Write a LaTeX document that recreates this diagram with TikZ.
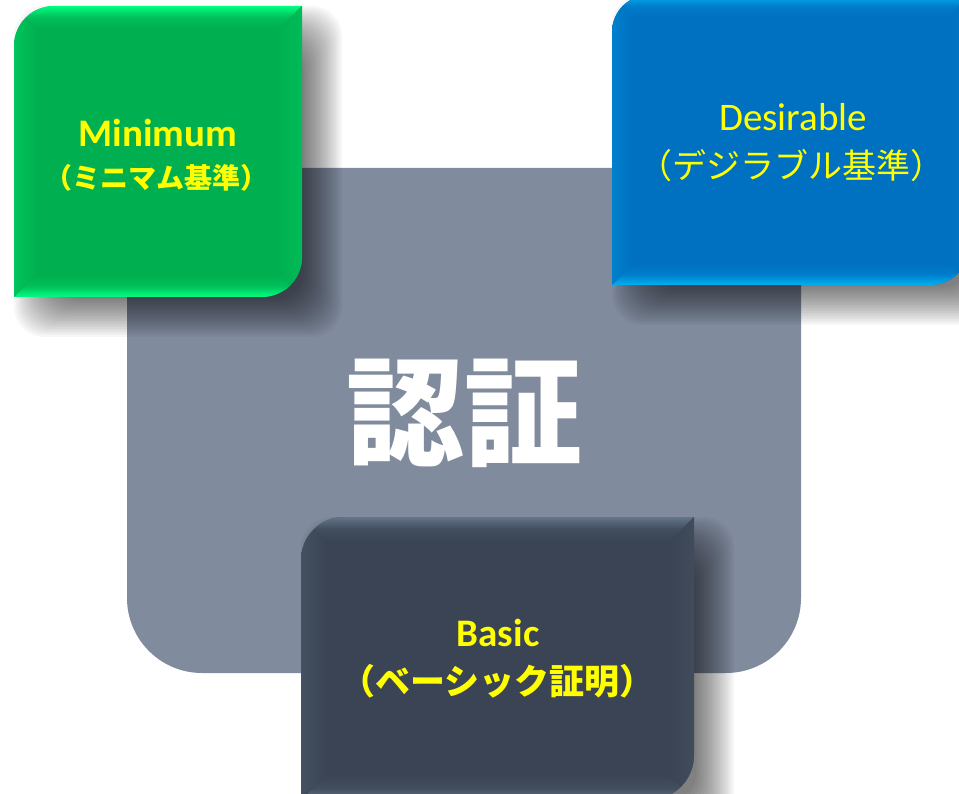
\documentclass[tikz,border=0pt]{standalone}
\usepackage{fontspec}
\setmainfont{Carlito}
\newfontfamily\jp{Noto Sans CJK JP}
\definecolor{grayB}{RGB}{128,139,157}
\definecolor{greenM}{RGB}{0,176,80}
\definecolor{greenL}{RGB}{0,255,128}
\definecolor{blueM}{RGB}{0,112,192}
\definecolor{blueL}{RGB}{0,176,240}
\definecolor{darkM}{RGB}{58,68,84}
\definecolor{darkL}{RGB}{100,116,138}
\definecolor{ytext}{RGB}{255,255,0}
% #1 path, #2 x0, #3 y0, #4 x1, #5 y1, #6 main, #7 light, #8 bevel
\newcommand{\bevbox}[8]{%
  \begin{scope}
    \clip #1;
    \fill[#6] (#2,#3) rectangle (#4,#5);
    \shade[top color=#7, bottom color=#6, middle color=#6!80!#7]
      (#2,#3) -- (#4,#3) -- ({#4-#8},{#3+#8}) -- ({#2+#8},{#3+#8}) -- cycle;
    \shade[top color=#6, bottom color=#7, middle color=#6!80!#7]
      (#2,#5) -- (#4,#5) -- ({#4-#8},{#5-#8}) -- ({#2+#8},{#5-#8}) -- cycle;
    \shade[left color=#6!75!#7, right color=#6]
      (#2,#3) -- ({#2+#8},{#3+#8}) -- ({#2+#8},{#5-#8}) -- (#2,#5) -- cycle;
    \shade[left color=#6, right color=#6!85!#7]
      (#4,#3) -- ({#4-#8},{#3+#8}) -- ({#4-#8},{#5-#8}) -- (#4,#5) -- cycle;
  \end{scope}}
% soft shadow: #1 x0, #2 y0, #3 x1, #4 y1 (already offset)
\newcommand{\softshadow}[4]{%
  \foreach \k [evaluate=\k as \e using 20-2*\k] in {0,...,19}{
    \fill[black, opacity=0.03, rounded corners=30]
      ({#1-\e},{#2-\e}) rectangle ({#3+\e},{#4+\e});
  }}
\tikzset{
  lat/.style={text=ytext, inner sep=0pt, anchor=base},
  jpl/.style={text=ytext, inner sep=0pt, anchor=center},
}
\begin{document}
\begin{tikzpicture}[x=1pt,y=-1pt]
\useasboundingbox (0,0) rectangle (959,794);
\clip (0,0) rectangle (959,794);
\fill[white] (0,0) rectangle (959,794);
% central gray box
\fill[grayB] (127,168) -- (801,168) -- (801,598)
  arc[start angle=0,end angle=90,radius=75] -- (202,673)
  arc[start angle=90,end angle=180,radius=75] -- cycle;
% green box
\softshadow{34}{26}{322}{317}
\bevbox{(14,46) arc[start angle=180,end angle=270,radius=40] -- (302,6) -- (302,257) arc[start angle=0,end angle=90,radius=40] -- (14,297) -- cycle}{14}{6}{302}{297}{greenM}{greenL}{22}
% blue box
\softshadow{632}{15}{990}{305}
\bevbox{(612,32) arc[start angle=180,end angle=270,radius=37] -- (970,-5) -- (970,245) arc[start angle=0,end angle=90,radius=40] -- (612,285) -- cycle}{612}{-5}{970}{285}{blueM}{blueL}{22}
% dark box
\softshadow{321}{537}{714}{820}
\bevbox{(301,560) arc[start angle=180,end angle=270,radius=43] -- (694,517) -- (694,755) arc[start angle=0,end angle=90,radius=45] -- (301,800) -- cycle}{301}{517}{694}{800}{darkM}{darkL}{24}
% texts
\node[lat, font=\bfseries\fontsize{39}{44}\selectfont] (minA) at (158,146.5) {Minimum};
\node[jpl, font=\jp\bfseries\fontsize{28}{32}\selectfont] (minB) at (157,177.5) {（ミニマム基準）};
\node[lat, font=\fontsize{39}{44}\selectfont] (desA) at (793,130.5) {Desirable};
\node[jpl, font=\jp\fontsize{34}{40}\selectfont] (desB) at (791.5,166) {（デジラブル基準）};
\node[lat, font=\bfseries\fontsize{39}{44}\selectfont] (basA) at (498,646.5) {Basic};
\node[jpl, font=\jp\bfseries\fontsize{35}{40}\selectfont] (basB) at (497.5,681.5) {（ベーシック証明）};
\node[text=white, inner sep=0pt, font=\jp\bfseries\fontsize{118}{130}\selectfont] (ninsho) at (464,413) {認証};
\end{tikzpicture}
\end{document}
